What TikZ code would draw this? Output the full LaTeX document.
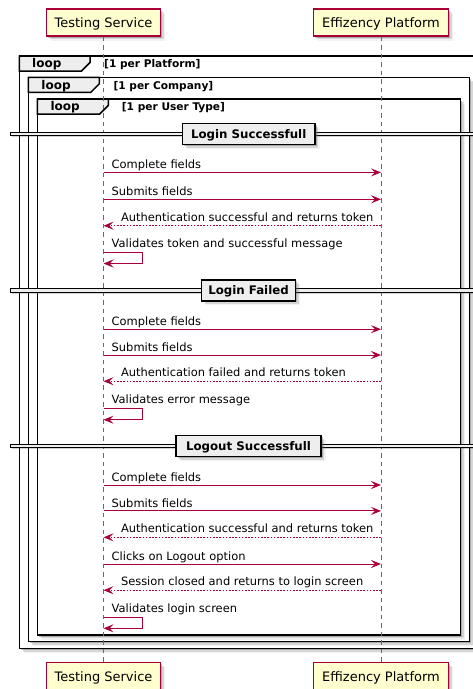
\documentclass[tikz,border=0pt]{standalone}
\usepackage{fontspec}
\setmainfont{DejaVu Sans}
\usetikzlibrary{arrows.meta,shadows}

\definecolor{umlred}{HTML}{A80036}
\definecolor{umlbox}{HTML}{FEFECE}
\definecolor{umlgray}{HTML}{EEEEEE}

\tikzset{
  softshadow/.style={
    drop shadow={shadow xshift=1.6pt,shadow yshift=-1.6pt,opacity=.35,fill=black!70},
    drop shadow={shadow xshift=3.2pt,shadow yshift=-3.2pt,opacity=.2,fill=black!60},
    drop shadow={shadow xshift=4.6pt,shadow yshift=-4.6pt,opacity=.1,fill=black!50}},
  actor/.style={draw=umlred, line width=1.3pt, fill=umlbox, minimum width=#1,
    minimum height=27pt, inner sep=0pt, text height=10.4pt, text depth=0pt,
    font=\fontsize{13}{15}\selectfont, softshadow},
  frame/.style={draw=black, line width=1.5pt, fill=white, softshadow},
  tab/.style={draw=black, line width=1.5pt, fill=umlgray, line join=miter},
  looptag/.style={anchor=base west, inner sep=0pt, font=\bfseries\fontsize{12}{14}\selectfont},
  loopcond/.style={anchor=base west, inner sep=0pt, font=\bfseries\fontsize{10.6}{12}\selectfont},
  lifeline/.style={draw=umlred!75, line width=0.9pt, dash pattern=on 4.5pt off 4pt},
  sepbar/.style={draw=black, line width=0.8pt, fill=umlgray,
    drop shadow={shadow xshift=1.5pt,shadow yshift=-1.5pt,opacity=.25,fill=black!70}},
  seplabel/.style={draw=black, line width=1.5pt, fill=umlgray, minimum width=#1,
    minimum height=21pt, inner sep=0pt, text height=8.6pt, text depth=0pt,
    font=\bfseries\fontsize{11.8}{13}\selectfont, softshadow},
  tipstyle/.style={-{Stealth[length=10pt,width=8pt,inset=4pt]}},
  msg/.style={draw=umlred, line width=0.9pt, tipstyle},
  reply/.style={msg, dash pattern=on 1.6pt off 1.6pt},
  msgtext/.style={anchor=base west, inner sep=0pt, font=\fontsize{11.45}{13}\selectfont},
}

\begin{document}
\begin{tikzpicture}[x=1pt,y=-1pt]
\useasboundingbox (0,0) rectangle (472,689);

% participants, head and foot
\node[actor=114] (tsTop) at (103.5,22.5) {Testing Service};
\node[actor=135] (epTop) at (381,22.5) {Effizency Platform};
\node[actor=114] (tsBot) at (103.5,675.8) {Testing Service};
\node[actor=135] (epBot) at (381,675.8) {Effizency Platform};

% nested loop frames
\draw[frame] (19.3,56) rectangle (484,648.3);
\draw[tab] (19.3,56) -- (90,56) -- (90,62.5) -- (81.5,71) -- (19.3,71) -- cycle;
\node[looptag] (loopA) at (32,67.7) {loop};
\node[loopcond] (condA) at (104,67.7) {[1 per Platform]};

\draw[frame] (28.3,77.3) rectangle (469.3,641.7);
\draw[tab] (28.3,77.3) -- (99.3,77.3) -- (99.3,83.8) -- (90.8,92.3) -- (28.3,92.3) -- cycle;
\node[looptag] (loopB) at (41.2,89) {loop};
\node[loopcond] (condB) at (113.3,89) {[1 per Company]};

\draw[frame] (37.3,99) rectangle (460.7,635);
\draw[tab] (37.3,99) -- (108.3,99) -- (108.3,105.5) -- (99.8,114) -- (37.3,114) -- cycle;
\node[looptag] (loopC) at (50.3,110.7) {loop};
\node[loopcond] (condC) at (121.7,110.7) {[1 per User Type]};

% lifelines
\draw[lifeline] (tsTop.south) -- (tsBot.north);
\draw[lifeline] (epTop.south) -- (epBot.north);

% group separators
\draw[sepbar] (10,132.2) rectangle (484,135.8);
\node[seplabel=132.5] (sepA) at (248.7,134) {Login Successfull};
\draw[sepbar] (10,288.5) rectangle (484,292.1);
\node[seplabel=93.6] (sepB) at (248.5,290.3) {Login Failed};
\draw[sepbar] (10,444.2) rectangle (484,447.8);
\node[seplabel=145] (sepC) at (248.5,446) {Logout Successfull};

% row positions
\coordinate (a1) at (0,172.4);
\coordinate (a2) at (0,199.3);
\coordinate (a3) at (0,225.7);
\coordinate (a4) at (0,252.3);
\coordinate (a5) at (0,263.5);
\coordinate (b1) at (0,329.2);
\coordinate (b2) at (0,355);
\coordinate (b3) at (0,381.2);
\coordinate (b4) at (0,408.3);
\coordinate (b5) at (0,419.7);
\coordinate (c1) at (0,485);
\coordinate (c2) at (0,510.9);
\coordinate (c3) at (0,537.3);
\coordinate (c4) at (0,564);
\coordinate (c5) at (0,590.2);
\coordinate (c6) at (0,617);
\coordinate (c7) at (0,628.3);

% Login Successfull
\draw[msg] (tsTop |- a1) -- (epTop |- a1);
\node[msgtext] (ta1) at (111.5,168.9) {Complete fields};
\draw[msg] (tsTop |- a2) -- (epTop |- a2);
\node[msgtext] (ta2) at (111.5,195.8) {Submits fields};
\draw[reply] (epTop |- a3) -- (tsTop |- a3);
\node[msgtext] (ta3) at (120.8,221.2) {Authentication successful and returns token};
\draw[msg] (tsTop |- a4) -- ++(39,0) |- (tsTop |- a5);
\node[msgtext] (ta4) at (111.5,247.3) {Validates token and successful message};

% Login Failed
\draw[msg] (tsTop |- b1) -- (epTop |- b1);
\node[msgtext] (tb1) at (111.5,325.7) {Complete fields};
\draw[msg] (tsTop |- b2) -- (epTop |- b2);
\node[msgtext] (tb2) at (111.5,351.5) {Submits fields};
\draw[reply] (epTop |- b3) -- (tsTop |- b3);
\node[msgtext] (tb3) at (120.8,376.7) {Authentication failed and returns token};
\draw[msg] (tsTop |- b4) -- ++(39,0) |- (tsTop |- b5);
\node[msgtext] (tb4) at (111.5,403.3) {Validates error message};

% Logout Successfull
\draw[msg] (tsTop |- c1) -- (epTop |- c1);
\node[msgtext] (tc1) at (111.5,481.5) {Complete fields};
\draw[msg] (tsTop |- c2) -- (epTop |- c2);
\node[msgtext] (tc2) at (111.5,507.4) {Submits fields};
\draw[reply] (epTop |- c3) -- (tsTop |- c3);
\node[msgtext] (tc3) at (120.8,532.8) {Authentication successful and returns token};
\draw[msg] (tsTop |- c4) -- (epTop |- c4);
\node[msgtext] (tc4) at (111.5,560.5) {Clicks on Logout option};
\draw[reply] (epTop |- c5) -- (tsTop |- c5);
\node[msgtext] (tc5) at (120.8,585.7) {Session closed and returns to login screen};
\draw[msg] (tsTop |- c6) -- ++(39,0) |- (tsTop |- c7);
\node[msgtext] (tc6) at (111.5,612) {Validates login screen};
\end{tikzpicture}
\end{document}
